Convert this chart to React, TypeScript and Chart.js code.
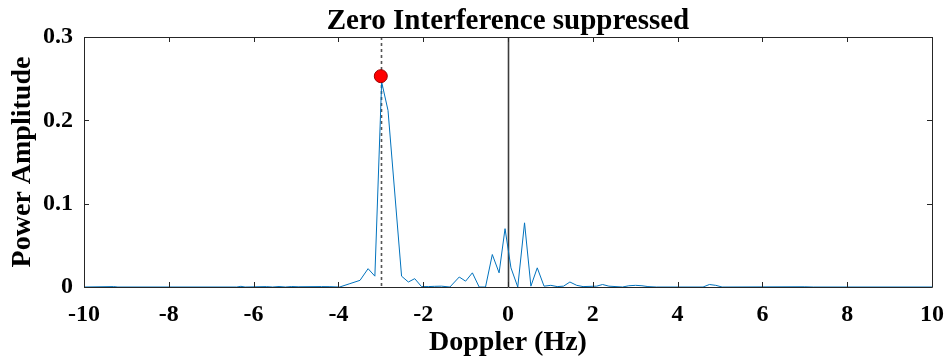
import React, { useEffect, useRef } from "react";
import { Chart, registerables } from "chart.js";

Chart.register(...registerables);

// ---- Data ----
const dopplerHz = [
  -10, -9.3, -9.2, -6.4, -6.3, -6.2, -5.7, -5.55, -5.4, -5.25, -5.1, -4.95,
  -4.4, -4.2, -3.97, -3.73, -3.49, -3.3, -3.14, -2.98, -2.83, -2.51, -2.35,
  -2.2, -2.04, -1.88, -1.73, -1.57, -1.37, -1.15, -1.0, -0.84, -0.68, -0.53,
  -0.37, -0.21, -0.07, 0.07, 0.23, 0.39, 0.54, 0.69, 0.85, 1.01, 1.16, 1.31,
  1.46, 1.62, 1.77, 2.09, 2.23, 2.38, 2.7, 2.85, 3.01, 3.16, 3.3, 3.5, 4.6,
  4.75, 4.9, 5.05, 7.0, 7.2, 10,
];
const powerAmplitude = [
  0, 0.0005, 0, 0, 0.0008, 0, 0.0005, 0, 0.0006, 0, 0.0006, 0.0003,
  0.0005, 0.0004, 0, 0.004, 0.008, 0.022, 0.013, 0.246, 0.212, 0.013, 0.006,
  0.01, 0.0005, 0.0005, 0.0008, 0.001, 0, 0.012, 0.007, 0.017, 0, 0,
  0.039, 0.017, 0.07, 0.023, 0, 0.077, 0.001, 0.023, 0.001, 0.002, 0.0005, 0.001,
  0.006, 0.002, 0.0005, 0.001, 0.003, 0.001, 0, 0.0015, 0.002, 0.0015, 0.0005, 0, 0,
  0.003, 0.002, 0, 0.0003, 0, 0,
];
const peakHz = -3;
const peakPower = 0.253;
const zeroLineHz = 0;

const titleText = "Zero Interference suppressed";
const xTitle = "Doppler (Hz)";
const yTitle = "Power Amplitude";
const xTickValues = [-10, -8, -6, -4, -2, 0, 2, 4, 6, 8, 10];
const yTickValues = [0, 0.1, 0.2, 0.3];

const FONT = "'Liberation Serif', 'Times New Roman', serif";

const boxPlugin = {
  id: "matlabBox",
  beforeDatasetsDraw(chart: any) {
    const { ctx, chartArea, scales } = chart;
    const xs = scales.x;
    ctx.save();
    const x0 = Math.round(xs.getPixelForValue(zeroLineHz)) + 0.5;
    ctx.strokeStyle = "#3c3c3c";
    ctx.lineWidth = 1.6;
    ctx.beginPath();
    ctx.moveTo(x0, chartArea.top);
    ctx.lineTo(x0, chartArea.bottom);
    ctx.stroke();
    const xp = Math.round(xs.getPixelForValue(peakHz)) + 0.5;
    ctx.strokeStyle = "#555555";
    ctx.lineWidth = 1.6;
    ctx.setLineDash([3, 3]);
    ctx.beginPath();
    ctx.moveTo(xp, chartArea.top);
    ctx.lineTo(xp, chartArea.bottom);
    ctx.stroke();
    ctx.restore();
  },
  afterDraw(chart: any) {
    const { ctx, chartArea, scales } = chart;
    const { left, right, top, bottom } = chartArea;
    ctx.save();
    ctx.strokeStyle = "#262626";
    ctx.lineWidth = 1;
    ctx.beginPath();
    ctx.rect(Math.round(left) + 0.5, Math.round(top) + 0.5, Math.round(right - left), Math.round(bottom - top));
    ctx.stroke();
    const tl = 5;
    ctx.beginPath();
    xTickValues.forEach((v) => {
      const px = Math.round(scales.x.getPixelForValue(v)) + 0.5;
      ctx.moveTo(px, bottom);
      ctx.lineTo(px, bottom - tl);
      ctx.moveTo(px, top);
      ctx.lineTo(px, top + tl);
    });
    yTickValues.forEach((v) => {
      const py = Math.round(scales.y.getPixelForValue(v)) + 0.5;
      ctx.moveTo(left, py);
      ctx.lineTo(left + tl, py);
      ctx.moveTo(right, py);
      ctx.lineTo(right - tl, py);
    });
    ctx.stroke();
    ctx.fillStyle = "#000";
    ctx.font = `bold 29px ${FONT}`;
    ctx.textAlign = "center";
    ctx.textBaseline = "alphabetic";
    ctx.fillText(titleText, (left + right) / 2, 29);
    ctx.restore();
  },
};

export default function App() {
  const ref = useRef<HTMLCanvasElement | null>(null);
  useEffect(() => {
    document.body.style.margin = "0";
    const canvas = ref.current;
    if (!canvas) return;
    const lineData = dopplerHz.map((x, i) => ({ x, y: powerAmplitude[i] }));
    const chart = new Chart(canvas, {
      type: "line",
      data: {
        datasets: [
          {
            type: "scatter",
            data: [{ x: peakHz, y: peakPower }],
            pointRadius: 6.5,
            pointBackgroundColor: "#ff0000",
            pointBorderColor: "#9a0000",
            pointBorderWidth: 1,
            showLine: false,
            order: 0,
          } as any,
          {
            data: lineData,
            borderColor: "#0072BD",
            borderWidth: 1,
            pointRadius: 0,
            tension: 0,
            fill: false,
            order: 1,
          },
        ],
      },
      plugins: [boxPlugin],
      options: {
        animation: false,
        responsive: false,
        devicePixelRatio: 1,
        layout: { padding: { top: 37, right: 16, bottom: 0, left: 0 } },
        plugins: {
          legend: { display: false },
          tooltip: { enabled: false },
          title: { display: false },
        },
        scales: {
          x: {
            type: "linear",
            min: -10,
            max: 10,
            grid: { display: false, drawTicks: false },
            border: { display: false },
            afterBuildTicks: (scale: any) => {
              scale.ticks = xTickValues.map((v) => ({ value: v }));
            },
            afterFit: (scale: any) => {
              scale.height = 74;
              scale.paddingLeft = 0;
              scale.paddingRight = 0;
            },
            ticks: {
              color: "#000",
              padding: 13,
              autoSkip: false,
              maxRotation: 0,
              font: { family: FONT, size: 24, weight: "bold" },
              callback: (v: any) => String(v),
            },
            title: {
              display: true,
              text: xTitle,
              color: "#000",
              font: { family: FONT, size: 28, weight: "bold" },
              padding: { top: 0, bottom: 1 },
            },
          },
          y: {
            type: "linear",
            min: 0,
            max: 0.3,
            grid: { display: false, drawTicks: false },
            border: { display: false },
            afterBuildTicks: (scale: any) => {
              scale.ticks = yTickValues.map((v) => ({ value: v }));
            },
            afterFit: (scale: any) => {
              scale.width = 84;
              scale.paddingTop = 0;
              scale.paddingBottom = 0;
            },
            ticks: {
              color: "#000",
              padding: 11,
              font: { family: FONT, size: 24, weight: "bold" },
              callback: (v: any) => (Number(v) === 0 ? "0" : Number(v).toFixed(1)),
            },
            title: {
              display: true,
              text: yTitle,
              color: "#000",
              font: { family: FONT, size: 28, weight: "bold" },
              padding: { top: 6, bottom: 0 },
            },
          },
        },
      } as any,
    });
    return () => chart.destroy();
  }, []);
  return (
    <div style={{ width: 948, height: 361, background: "#fff" }}>
      <canvas ref={ref} width={948} height={361} style={{ display: "block" }} />
    </div>
  );
}
